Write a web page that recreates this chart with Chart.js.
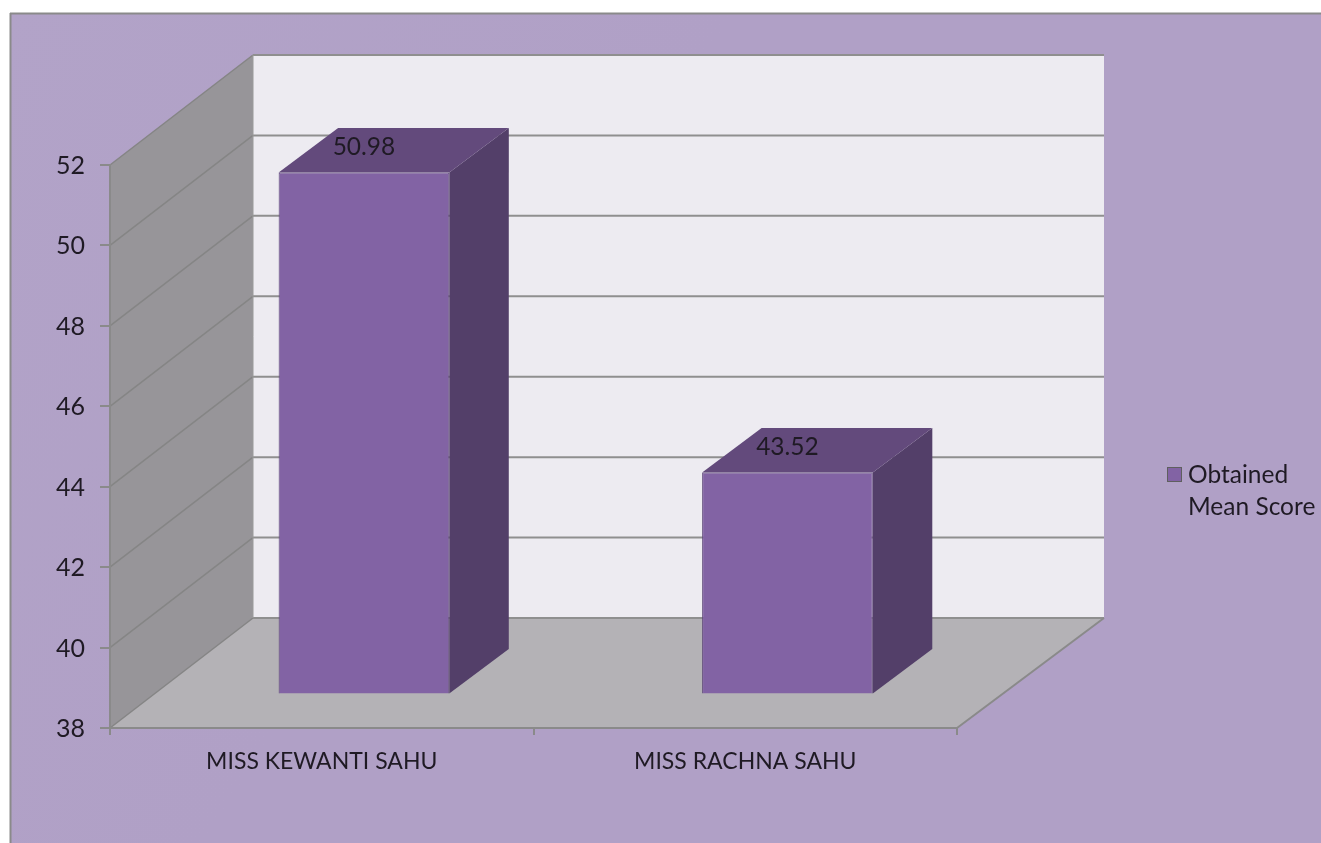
<!DOCTYPE html>
<html>
<head>
<meta charset="utf-8">
<style>html,body{margin:0;padding:0;background:#fff}#w{width:1321px;height:843px}canvas{display:block}</style>
<script src="https://cdn.jsdelivr.net/npm/chart.js@4/dist/chart.umd.min.js"></script>
</head>
<body>
<div id="w"><canvas id="c" width="1321" height="843"></canvas></div>
<script>
const categories = ["MISS KEWANTI SAHU", "MISS RACHNA SAHU"];
const seriesName = "Obtained Mean Score";
const legendLines = ["Obtained", "Mean Score"];
const meanScores = [50.98, 43.52];

const FONT = "Lato";
const TEXT = "#1f1a24";
const wall = {dx: 143, dxR: 147, dy: -110};
const front = {dx: 42.2, dy: -33.5};
const depth = {dx: 59.5, dy: -44.5};

function poly(ctx, pts, fill, stroke, lw) {
  ctx.beginPath();
  pts.forEach((p, i) => i ? ctx.lineTo(p[0], p[1]) : ctx.moveTo(p[0], p[1]));
  ctx.closePath();
  if (fill) { ctx.fillStyle = fill; ctx.fill(); }
  if (stroke) { ctx.strokeStyle = stroke; ctx.lineWidth = lw || 1; ctx.stroke(); }
}
function line(ctx, x1, y1, x2, y2, col, lw) {
  ctx.beginPath(); ctx.moveTo(x1, y1); ctx.lineTo(x2, y2);
  ctx.strokeStyle = col; ctx.lineWidth = lw; ctx.stroke();
}

const scene = {
  id: "scene",
  beforeDraw(chart) {
    const {ctx, chartArea: a, scales: {y}} = chart;
    ctx.save();
    ctx.fillStyle = "#fff"; ctx.fillRect(0, 0, 1321, 843);
    const g = ctx.createLinearGradient(0, 0, 1321, 843);
    g.addColorStop(0, "#b2a3c8"); g.addColorStop(0.4, "#b0a0c6"); g.addColorStop(1, "#b0a0c6");
    ctx.fillStyle = g; ctx.fillRect(11, 14, 1310, 829);
    line(ctx, 10, 13.5, 1321, 13.5, "#8a8a8a", 2);
    line(ctx, 10.5, 13, 10.5, 843, "#8a8a8a", 2);

    const L = a.left, R = a.right, T = a.top, B = a.bottom;
    const BL = L + wall.dx, BR = R + wall.dxR;
    poly(ctx, [[BL, T+wall.dy], [BR, T+wall.dy], [BR, B+wall.dy], [BL, B+wall.dy]], "#edebf1");
    poly(ctx, [[L, T], [BL, T+wall.dy], [BL, B+wall.dy], [L, B]], "#979599");
    poly(ctx, [[L, B], [BL, B+wall.dy], [BR, B+wall.dy], [R, B]], "#b4b2b6");
    y.ticks.forEach(t => {
      const py = y.getPixelForValue(t.value);
      line(ctx, L, py, BL, py+wall.dy, "#858585", 1.5);
      line(ctx, BL, py+wall.dy, BR, py+wall.dy, "#8f8f8f", 2);
    });
    line(ctx, R, B, BR, B+wall.dy, "#8a8a8a", 2);
    line(ctx, BL, T+wall.dy, BL, B+wall.dy, "#9a9a9a", 1);
    ctx.restore();
  },
  beforeDatasetDraw(chart, args) {
    const {ctx} = chart;
    ctx.save();
    chart.getDatasetMeta(args.index).data.forEach(b => {
      const l = b.x - b.width/2 + front.dx, r = b.x + b.width/2 + front.dx;
      const t = b.y + front.dy, bt = b.base + front.dy;
      poly(ctx, [[r, t], [r+depth.dx, t+depth.dy], [r+depth.dx, bt+depth.dy], [r, bt]], "#533f69");
      poly(ctx, [[l, t], [l+depth.dx, t+depth.dy], [r+depth.dx, t+depth.dy], [r, t]], "#634a7c");
    });
    ctx.translate(front.dx, front.dy);
  },
  afterDatasetDraw(chart) { chart.ctx.restore(); },
  afterDatasetsDraw(chart) {
    const {ctx} = chart;
    ctx.save();
    ctx.fillStyle = TEXT;
    ctx.font = "24.5px " + FONT;
    ctx.textAlign = "center";
    ctx.textBaseline = "middle";
    chart.getDatasetMeta(0).data.forEach((b, i) => {
      ctx.fillText(meanScores[i].toFixed(2), b.x + front.dx, b.y + front.dy - 25.5);
    });
    ctx.fillStyle = "#8263a4"; ctx.strokeStyle = "#5f5f5f"; ctx.lineWidth = 1;
    ctx.fillRect(1167, 467, 15, 15); ctx.strokeRect(1167.5, 467.5, 14, 14);
    ctx.fillStyle = TEXT; ctx.textAlign = "left";
    legendLines.forEach((s, i) => ctx.fillText(s, 1188, 475.5 + i*32));
    ctx.restore();
  }
};

new Chart(document.getElementById("c"), {
  type: "bar",
  data: {
    labels: categories,
    datasets: [{
      label: seriesName,
      data: meanScores,
      base: 38,
      clip: false,
      backgroundColor: "#8263a4",
      borderColor: "#5d4778",
      borderWidth: 1,
      barPercentage: 0.403,
      categoryPercentage: 1
    }]
  },
  plugins: [scene],
  options: {
    responsive: false,
    animation: false,
    layout: {padding: {left: 0, top: 165, right: 364, bottom: 0}},
    plugins: {legend: {display: false}, tooltip: {enabled: false}, title: {display: false}},
    scales: {
      x: {
        offset: true,
        afterFit(s) { s.height = 115; },
        grid: {drawOnChartArea: false, drawTicks: true, tickLength: 7, offset: true, color: "#8a8a8a", lineWidth: 2},
        border: {display: true, color: "#8a8a8a", width: 2},
        ticks: {color: TEXT, font: {family: FONT, size: 23}, padding: 13, maxRotation: 0, autoSkip: false}
      },
      y: {
        min: 38, max: 52,
        afterFit(s) { s.width = 110; },
        grid: {drawOnChartArea: false, drawTicks: true, tickLength: 10, color: "#8a8a8a", lineWidth: 2},
        border: {display: true, color: "#8a8a8a", width: 2},
        ticks: {stepSize: 2, color: TEXT, font: {family: FONT, size: 25}, padding: 15, labelOffset: 1}
      }
    }
  }
});
</script>
</body>
</html>
